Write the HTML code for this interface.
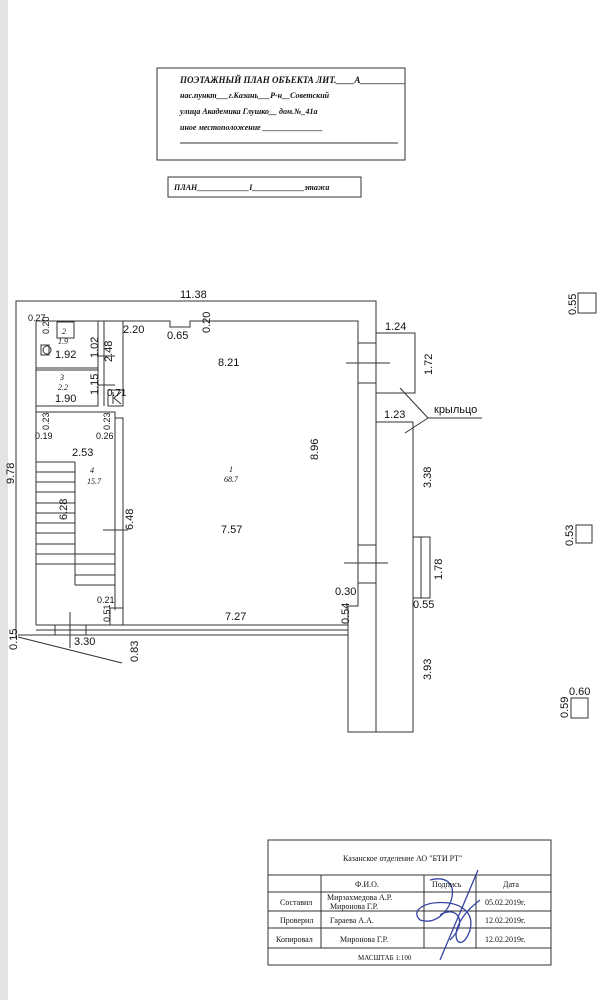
<!DOCTYPE html>
<html><head><meta charset="utf-8"><style>
body{margin:0;background:#fff;}
svg{display:block}
text{font-family:"Liberation Sans",sans-serif;fill:#111}
.s text{font-family:"Liberation Serif",serif;font-style:italic;font-weight:bold}
.r text{font-family:"Liberation Serif",serif}
</style></head><body>
<svg width="607" height="1000" viewBox="0 0 607 1000" xmlns="http://www.w3.org/2000/svg">
<rect x="0" y="0" width="8" height="1000" fill="#e4e4e4"/>
<g fill="none" stroke="#333" stroke-width="1">
<rect x="157" y="68" width="248" height="92"/>
<rect x="168" y="177" width="193" height="20"/>
<polyline points="16,637 16,301 376,301 376,333"/>
<polyline points="36,625 36,321 170,321 170,327 190,327 190,321 358,321 358,606 348,606 348,625"/>
<rect x="36" y="321" width="62" height="47"/>
<rect x="36" y="370" width="62" height="36"/>
<line x1="98" y1="321" x2="98" y2="406"/>
<line x1="104" y1="321" x2="104" y2="406"/>
<line x1="123" y1="321" x2="123" y2="406"/>
<line x1="98" y1="356" x2="115" y2="356"/>
<line x1="98" y1="385" x2="115" y2="385"/>
<rect x="108" y="390" width="15" height="16"/>
<polyline points="113,392 113,404"/><polyline points="121,392 114,398 121,404"/>
<rect x="57" y="322" width="17" height="16"/>
<circle cx="47" cy="350" r="4"/>
<rect x="41" y="345" width="8" height="10"/>
<polyline points="36,412 115,412 115,418 123,418 123,625"/>
<line x1="115" y1="418" x2="115" y2="610"/>
<line x1="103" y1="530" x2="128" y2="530"/>
<g>
<line x1="36" y1="462" x2="75" y2="462"/><line x1="36" y1="472" x2="75" y2="472"/>
<line x1="36" y1="482" x2="75" y2="482"/><line x1="36" y1="492" x2="75" y2="492"/>
<line x1="36" y1="503" x2="75" y2="503"/><line x1="36" y1="513" x2="75" y2="513"/>
<line x1="36" y1="523" x2="75" y2="523"/><line x1="36" y1="533" x2="75" y2="533"/>
<line x1="36" y1="544" x2="75" y2="544"/><line x1="36" y1="554" x2="75" y2="554"/>
<line x1="36" y1="564" x2="75" y2="564"/>
<line x1="75" y1="462" x2="75" y2="585"/>
<line x1="75" y1="554" x2="115" y2="554"/><line x1="75" y1="564" x2="115" y2="564"/>
<line x1="75" y1="575" x2="115" y2="575"/><line x1="75" y1="585" x2="115" y2="585"/>
</g>
<rect x="110" y="608" width="13" height="17"/>
<line x1="36" y1="625" x2="348" y2="625"/>
<line x1="36" y1="630" x2="348" y2="630"/>
<line x1="18" y1="635" x2="348" y2="635"/>
<line x1="55" y1="625" x2="55" y2="635"/>
<line x1="70" y1="612" x2="70" y2="648"/>
<polyline points="18,637 122,663"/>
<line x1="86" y1="625" x2="86" y2="635"/>
<line x1="376" y1="333" x2="376" y2="732"/>
<rect x="358" y="343" width="18" height="40"/>
<line x1="346" y1="363" x2="390" y2="363"/>
<rect x="376" y="333" width="39" height="60"/>
<polyline points="376,422 413,422 413,732 348,732 348,625"/>
<rect x="358" y="545" width="18" height="38"/>
<line x1="344" y1="563" x2="388" y2="563"/>
<rect x="413" y="537" width="17" height="61"/>
<line x1="421" y1="537" x2="421" y2="598"/>
<line x1="400" y1="388" x2="428" y2="418"/>
<line x1="405" y1="433" x2="428" y2="418"/>
<line x1="428" y1="418" x2="482" y2="418"/>
<rect x="578" y="293" width="18" height="20"/>
<rect x="576" y="525" width="16" height="18"/>
<rect x="571" y="698" width="17" height="20"/>
<rect x="268" y="840" width="283" height="125"/>
<line x1="268" y1="875" x2="551" y2="875"/>
<line x1="268" y1="892" x2="551" y2="892"/>
<line x1="268" y1="911" x2="551" y2="911"/>
<line x1="268" y1="928" x2="551" y2="928"/>
<line x1="268" y1="948" x2="551" y2="948"/>
<line x1="321" y1="875" x2="321" y2="948"/>
<line x1="424" y1="875" x2="424" y2="948"/>
<line x1="476" y1="875" x2="476" y2="948"/>
</g>
<path d="M430 880 C470 870 450 930 420 920 C400 900 480 890 470 930 C460 960 440 930 480 900 M440 915 C455 905 470 920 450 940 M478 870 L440 960" fill="none" stroke="#3544a0" stroke-width="1.3"/>
<g class="s">
<text x="180" y="83" font-size="9">ПОЭТАЖНЫЙ ПЛАН ОБЪЕКТА ЛИТ.____А__________</text>
<text x="180" y="98" font-size="8">нас.пункт___г.Казань___Р-н__Советский</text>
<text x="180" y="114" font-size="8">улица  Академика Глушко__ дом.№_41а</text>
<text x="180" y="130" font-size="8">иное местоположение _______________</text>
<text x="174" y="190" font-size="8">ПЛАН_____________I_____________этажа</text>
</g>
<line x1="180" y1="143" x2="398" y2="143" stroke="#333"/>
<g font-size="11">
<text x="180" y="298">11.38</text>
<text x="28" y="321" font-size="9">0.27</text>
<text x="123" y="333">2.20</text>
<text x="167" y="339">0.65</text>
<text x="55" y="358">1.92</text>
<text x="55" y="402">1.90</text>
<text x="107" y="396" font-size="10">0.71</text>
<text x="35" y="439" font-size="9">0.19</text>
<text x="96" y="439" font-size="9">0.26</text>
<text x="72" y="456">2.53</text>
<text x="218" y="366">8.21</text>
<text x="221" y="533">7.57</text>
<text x="385" y="330">1.24</text>
<text x="384" y="418">1.23</text>
<text x="434" y="413">крыльцо</text>
<text x="335" y="595">0.30</text>
<text x="413" y="608">0.55</text>
<text x="225" y="620">7.27</text>
<text x="74" y="645">3.30</text>
<text x="97" y="603" font-size="9">0.21</text>
<text x="569" y="695">0.60</text>
</g>
<g font-size="11">
<text transform="translate(14,484) rotate(-90)">9.78</text>
<text transform="translate(17,650) rotate(-90)">0.15</text>
<text transform="translate(138,662) rotate(-90)">0.83</text>
<text transform="translate(67,520) rotate(-90)">6.28</text>
<text transform="translate(133,530) rotate(-90)">6.48</text>
<text transform="translate(98,358) rotate(-90)">1.02</text>
<text transform="translate(112,362) rotate(-90)">2.48</text>
<text transform="translate(98,395) rotate(-90)">1.15</text>
<text transform="translate(318,460) rotate(-90)">8.96</text>
<text transform="translate(210,333) rotate(-90)">0.20</text>
<text transform="translate(432,375) rotate(-90)">1.72</text>
<text transform="translate(431,488) rotate(-90)">3.38</text>
<text transform="translate(442,580) rotate(-90)">1.78</text>
<text transform="translate(431,680) rotate(-90)">3.93</text>
<text transform="translate(349,624) rotate(-90)">0.54</text>
<text transform="translate(576,315) rotate(-90)">0.55</text>
<text transform="translate(573,546) rotate(-90)">0.53</text>
<text transform="translate(568,718) rotate(-90)">0.59</text>
<g font-size="9">
<text transform="translate(49,334) rotate(-90)">0.20</text>
<text transform="translate(49,430) rotate(-90)">0.23</text>
<text transform="translate(110,430) rotate(-90)">0.23</text>
<text transform="translate(110,622) rotate(-90)">0.51</text>
</g>
</g>
<g class="r" font-style="italic" font-size="8">
<text x="62" y="334" font-style="italic">2</text><text x="58" y="344" font-style="italic">1.9</text>
<text x="60" y="380" font-style="italic">3</text><text x="58" y="390" font-style="italic">2.2</text>
<text x="90" y="473" font-style="italic">4</text><text x="87" y="484" font-style="italic">15.7</text>
<text x="229" y="472" font-style="italic">1</text><text x="224" y="482" font-style="italic">68.7</text>
</g>
<g class="r" font-size="8">
<text x="343" y="861">Казанское отделение АО "БТИ РТ"</text>
<text x="355" y="887">Ф.И.О.</text>
<text x="432" y="887">Подпись</text>
<text x="503" y="887">Дата</text>
<text x="280" y="905">Составил</text>
<text x="327" y="900">Мирзахмедова А.Р.</text>
<text x="330" y="909">Миронова Г.Р.</text>
<text x="485" y="905">05.02.2019г.</text>
<text x="280" y="923">Проверил</text>
<text x="330" y="923">Гараева А.А.</text>
<text x="485" y="923">12.02.2019г.</text>
<text x="276" y="942">Копировал</text>
<text x="340" y="942">Миронова Г.Р.</text>
<text x="485" y="942">12.02.2019г.</text>
<text x="358" y="960" font-size="7">МАСШТАБ 1:100</text>
</g>
</svg>
</body></html>
